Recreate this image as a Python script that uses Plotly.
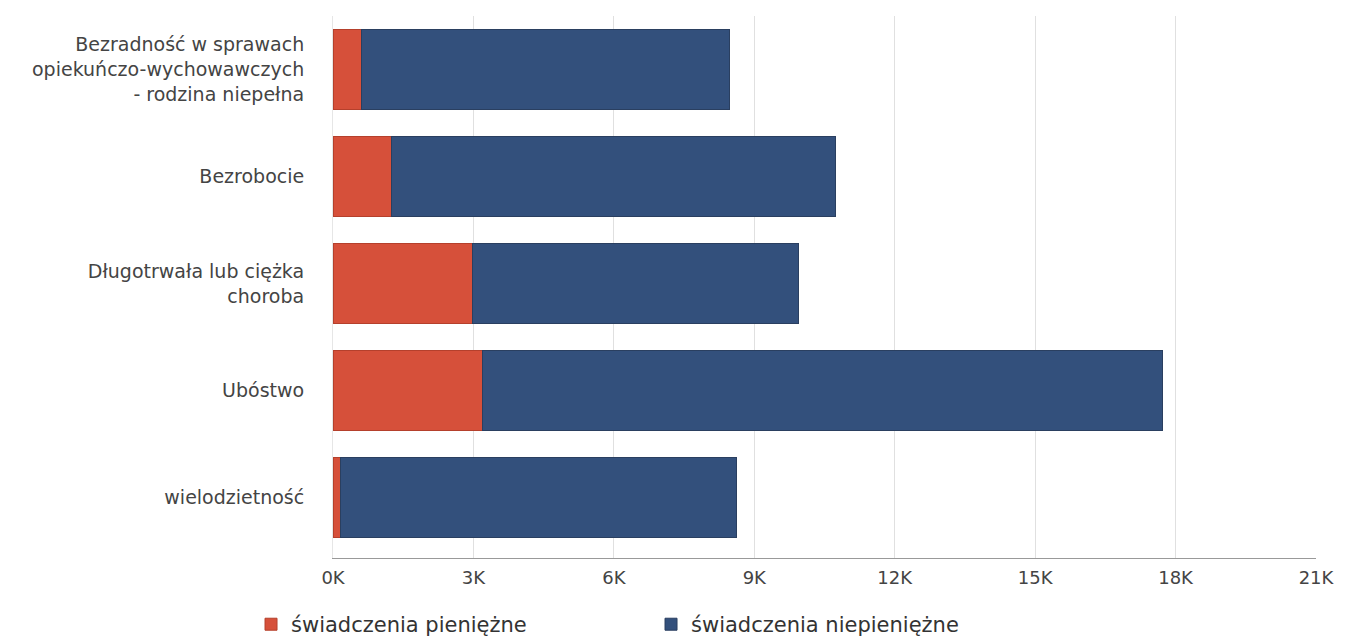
import plotly.graph_objects as go

categories = [
    "Bezradność w sprawach<br>opiekuńczo-wychowawczych<br>- rodzina niepełna",
    "Bezrobocie",
    "Długotrwała lub ciężka<br>choroba",
    "Ubóstwo",
    "wielodzietność",
]
pieniezne = [600, 1240, 2980, 3200, 150]
niepieniezne = [7880, 9490, 6960, 14530, 8480]
tick_vals = [0, 3000, 6000, 9000, 12000, 15000, 18000, 21000]
tick_text = ["0K", "3K", "6K", "9K", "12K", "15K", "18K", "21K"]

fig = go.Figure()
fig.add_trace(go.Bar(
    y=categories, x=pieniezne, orientation="h", name="świadczenia pieniężne",
    marker=dict(color="#d6503a", line=dict(color="#b5402c", width=1)),
))
fig.add_trace(go.Bar(
    y=categories, x=niepieniezne, orientation="h", name="świadczenia niepieniężne",
    marker=dict(color="#33507c", line=dict(color="#2a3f60", width=1)),
))

fig.update_layout(
    barmode="stack",
    bargap=0.25,
    width=1342, height=634,
    margin=dict(l=325, r=34, t=8, b=84, autoexpand=False),
    paper_bgcolor="white", plot_bgcolor="white",
    font=dict(family="DejaVu Sans, sans-serif", size=17, color="#444444"),
    showlegend=True,
    legend=dict(
        orientation="h", x=-0.0834, xanchor="left", y=-0.085, yanchor="top",
        font=dict(size=21, color="#333333"),
        entrywidth=355, entrywidthmode="pixels", itemwidth=30,
        traceorder="normal",
    ),
    xaxis=dict(
        range=[0, 21000], tickvals=tick_vals, ticktext=tick_text,
        showgrid=True, gridcolor="#e0e0e0", gridwidth=1,
        showline=True, linecolor="#999999", linewidth=1,
        zeroline=False, ticks="", ticklabelstandoff=3,
        tickfont=dict(size=18, color="#444444"),
    ),
    yaxis=dict(
        autorange=False, range=[4.565, -0.5],
        showgrid=False, zeroline=False, showline=True, linecolor="#e6e6e6",
        ticks="", ticklabelstandoff=24, tickfont=dict(size=19, color="#444444"),
    ),
)

fig.write_html("out.html")
